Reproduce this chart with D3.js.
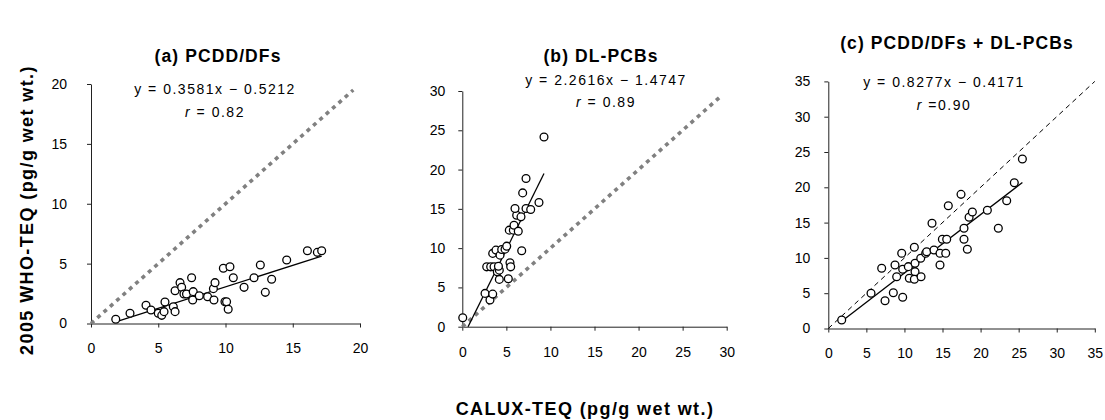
<!DOCTYPE html>
<html>
<head>
<meta charset="utf-8">
<title>CALUX vs WHO-TEQ</title>
<script src="https://d3js.org/d3.v7.min.js"></script>
<style>
  body { margin: 0; background: #fff; }
  text { font-family: "Liberation Sans", Arial, sans-serif; fill: #000; }
  .tick text { font-size: 14px; }
  .domain, .tick line { stroke: #222; stroke-width: 1px; }
  .title { font-weight: bold; font-size: 17.5px; letter-spacing: 1.1px; }
  .axis-title { font-weight: bold; font-size: 18px; letter-spacing: 1.4px; }
  .eq { font-size: 14px; letter-spacing: 1.5px; }
</style>
</head>
<body>
<svg id="chart" width="1105" height="420"></svg>
<script>
// (a) PCDD/DFs : CALUX-TEQ vs WHO-TEQ
var aX = [1.84, 2.9, 4.09, 4.46, 5.0, 5.26, 5.43, 5.5, 6.12, 6.25, 6.25, 6.62, 6.74, 6.91, 7.1, 7.48, 7.56, 7.6, 8.05, 8.67,
          9.1, 9.14, 9.22, 9.84, 10.33, 9.96, 10.08, 10.2, 10.58, 11.38, 12.12, 12.59, 12.96, 13.43, 14.55, 16.09, 16.83, 17.15];
var aY = [0.35, 0.85, 1.52, 1.13, 0.85, 0.68, 0.99, 1.8, 1.4, 0.99, 2.74, 3.41, 3.02, 2.46, 2.46, 3.82, 1.96, 2.66, 2.32, 2.24,
          2.91, 1.96, 3.41, 4.61, 4.74, 1.82, 1.82, 1.19, 3.82, 3.02, 3.82, 4.88, 2.6, 3.69, 5.3, 6.08, 5.94, 6.08];

// (b) DL-PCBs
var bX = [0.05, 2.58, 3.14, 3.45, 2.77, 3.22, 3.6, 3.45, 3.82, 3.97, 4.2, 4.28, 4.2, 4.47, 4.85, 5.04, 5.22, 5.41, 5.49,
          5.33, 5.79, 5.87, 6.35, 6.17, 5.98, 6.66, 6.74, 7.23, 7.76, 6.85, 7.23, 8.7, 9.27, 4.1];
var bY = [1.14, 4.24, 3.39, 4.15, 7.62, 7.62, 7.62, 9.33, 9.75, 6.99, 7.2, 9.11, 6.02, 9.83, 9.87, 10.25, 6.1, 8.13, 7.62,
          12.29, 12.29, 12.92, 12.16, 14.19, 15.04, 13.98, 9.66, 15.04, 14.91, 17.03, 18.86, 15.8, 24.14, 7.7];

// (c) PCDD/DFs + DL-PCBs
var cX = [1.76, 5.61, 7.45, 7.01, 8.54, 9.77, 8.76, 8.98, 9.64, 9.77, 10.51, 10.64, 11.3, 11.39, 11.39, 11.3, 12.14, 12.18,
          12.79, 12.92, 13.62, 13.88, 14.67, 14.67, 14.98, 15.42, 15.55, 15.76, 17.43, 17.82, 17.82, 18.26, 18.49, 18.92,
          20.89, 22.33, 23.43, 24.43, 25.49];
var cY = [1.2, 4.99, 3.94, 8.53, 5.07, 4.42, 9.0, 7.34, 10.65, 8.39, 8.76, 7.11, 11.5, 9.24, 8.05, 6.97, 9.94, 7.34,
          10.65, 10.88, 14.9, 11.12, 10.65, 9.0, 12.64, 10.65, 12.64, 17.39, 19.0, 14.19, 12.64, 11.22, 15.75, 16.5,
          16.74, 14.19, 18.1, 20.65, 24.0];

var ticksA = [0, 5, 10, 15, 20];
var ticksB = [0, 5, 10, 15, 20, 25, 30];
var ticksC = [0, 5, 10, 15, 20, 25, 30, 35];

var titles = ["(a) PCDD/DFs", "(b) DL-PCBs", "(c) PCDD/DFs + DL-PCBs"];
var slopes = [0.3581, 2.2616, 0.8277];
var intercepts = [-0.5212, -1.4747, -0.4171];
var eqLabels = ["y = 0.3581x \u2212 0.5212", "y = 2.2616x \u2212 1.4747", "y = 0.8277x \u2212 0.4171"];
var rLabels = [" = 0.82", " = 0.89", " =0.90"];
var identityEnd = [19.5, 29.5, 35];

var svg = d3.select("#chart");

// layout of each panel (pixels)
var panels = [
  { xs: aX, ys: aY, ticks: ticksA, left: 91, right: 360, top: 84, bottom: 323.5,
    labelGap: 20, titleX: 218, titleY: 62, eqX: 215, eqY: 94, rY: 117, idStyle: "gray" },
  { xs: bX, ys: bY, ticks: ticksB, left: 462.3, right: 726.7, top: 91, bottom: 326.7,
    labelGap: 13, titleX: 601, titleY: 62, eqX: 606, eqY: 84.5, rY: 106.7, idStyle: "gray" },
  { xs: cX, ys: cY, ticks: ticksC, left: 828.3, right: 1094.8, top: 81.4, bottom: 328.5,
    labelGap: 14, titleX: 957, titleY: 49, eqX: 944, eqY: 86.7, rY: 110, idStyle: "black" }
];

panels.forEach(function(p, i) {
  var max = p.ticks[p.ticks.length - 1];
  var x = d3.scaleLinear().domain([0, max]).range([p.left, p.right]);
  var y = d3.scaleLinear().domain([0, max]).range([p.bottom, p.top]);
  var g = svg.append("g");

  // axes
  g.append("g")
    .attr("transform", "translate(0," + p.bottom + ")")
    .call(d3.axisBottom(x).tickValues(p.ticks).tickSize(4).tickSizeOuter(0).tickPadding(16));
  g.append("g")
    .attr("transform", "translate(" + p.left + ",0)")
    .call(d3.axisLeft(y).tickValues(p.ticks).tickSize(4).tickSizeOuter(0).tickPadding(p.labelGap));

  // 1:1 line
  var id = g.append("line")
    .attr("x1", x(0)).attr("y1", y(0))
    .attr("x2", x(identityEnd[i])).attr("y2", y(identityEnd[i]));
  if (p.idStyle === "gray") {
    id.attr("stroke", "#808080").attr("stroke-width", 3.6).attr("stroke-dasharray", "4,4.5");
  } else {
    id.attr("stroke", "#000").attr("stroke-width", 1).attr("stroke-dasharray", "5,4");
  }

  // regression line, over the data range, kept above y = 0
  var x0 = Math.max(d3.min(p.xs), -intercepts[i] / slopes[i]);
  var x1 = d3.max(p.xs);
  g.append("line")
    .attr("x1", x(x0)).attr("y1", y(slopes[i] * x0 + intercepts[i]))
    .attr("x2", x(x1)).attr("y2", y(slopes[i] * x1 + intercepts[i]))
    .attr("stroke", "#000").attr("stroke-width", 1.3);

  // points
  g.selectAll("circle")
    .data(p.xs.map(function(v, k) { return [v, p.ys[k]]; }))
    .enter().append("circle")
      .attr("cx", function(d) { return x(d[0]); })
      .attr("cy", function(d) { return y(d[1]); })
      .attr("r", 3.9)
      .attr("fill", "#fff")
      .attr("stroke", "#000")
      .attr("stroke-width", 1.3);

  // equation and r
  g.append("text").attr("class", "eq")
    .attr("x", p.eqX).attr("y", p.eqY).attr("text-anchor", "middle")
    .text(eqLabels[i]);
  var rt = g.append("text").attr("class", "eq")
    .attr("x", p.eqX).attr("y", p.rY).attr("text-anchor", "middle");
  rt.append("tspan").attr("font-style", "italic").text("r");
  rt.append("tspan").text(rLabels[i]);

  // panel title
  g.append("text").attr("class", "title")
    .attr("x", p.titleX).attr("y", p.titleY).attr("text-anchor", "middle")
    .text(titles[i]);
});

// shared axis titles
svg.append("text").attr("class", "axis-title")
  .attr("transform", "translate(33,210) rotate(-90)")
  .attr("text-anchor", "middle")
  .text("2005 WHO-TEQ (pg/g wet wt.)");
svg.append("text").attr("class", "axis-title")
  .attr("x", 585).attr("y", 415).attr("text-anchor", "middle")
  .text("CALUX-TEQ (pg/g wet wt.)");
</script>
</body>
</html>
